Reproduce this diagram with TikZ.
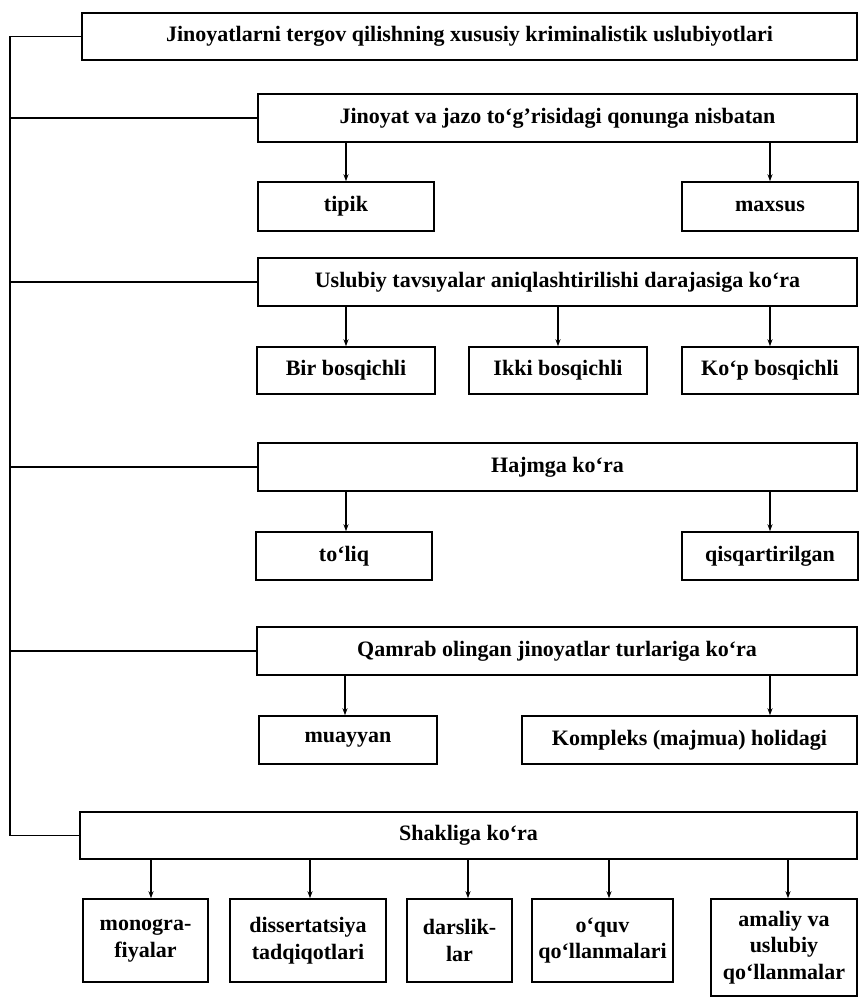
\documentclass[tikz,border=0pt]{standalone}
\usepackage{fontspec}
\setmainfont{Liberation Serif}
\usetikzlibrary{arrows.meta}
\tikzset{
  box/.style={draw, line width=1.5pt, inner sep=0pt, align=center,
    font=\bfseries\fontsize{22}{26.5}\selectfont},
  conn/.style={line width=1.5pt},
  arr/.style={line width=1.3pt, -{Stealth[length=7pt,width=5pt]}},
}
\begin{document}
\begin{tikzpicture}[x=1pt,y=-1pt]
\useasboundingbox (0,0) rectangle (862,999);
% main boxes
\node[box, minimum width=775pt, minimum height=47pt] (b1) at (469.5,36.5) {Jinoyatlarni tergov qilishning xususiy kriminalistik uslubiyotlari};
\node[box, minimum width=599pt, minimum height=48pt] (b2) at (557.5,118) {Jinoyat va jazo to`g'risidagi qonunga nisbatan};
\node[box, minimum width=176pt, minimum height=49pt] (tipik) at (346,206.5) {tipik};
\node[box, minimum width=176pt, minimum height=49pt] (maxsus) at (770,206.5) {maxsus};
\node[box, minimum width=599pt, minimum height=48pt] (b3) at (557.5,282) {Uslubiy tavsıyalar aniqlashtirilishi darajasiga ko`ra};
\node[box, minimum width=178pt, minimum height=47pt] (bir) at (346,370.5) {Bir bosqichli};
\node[box, minimum width=178pt, minimum height=47pt] (ikki) at (558,370.5) {Ikki bosqichli};
\node[box, minimum width=176pt, minimum height=47pt] (kop) at (770,370.5) {Ko`p bosqichli};
\node[box, minimum width=599pt, minimum height=48pt] (b4) at (557.5,467) {Hajmga ko`ra};
\node[box, minimum width=176pt, minimum height=48pt] (toliq) at (344,556) {to`liq};
\node[box, minimum width=176pt, minimum height=48pt] (qisq) at (770,556) {qisqartirilgan};
\node[box, minimum width=600pt, minimum height=48pt] (b5) at (557,651) {Qamrab olingan jinoyatlar turlariga ko`ra};
\node[box, minimum width=178pt, minimum height=48pt] (muay) at (348,740) {muayyan};
\node[box, minimum width=335pt, minimum height=48pt] (komp) at (689.5,740) {Kompleks (majmua) holidagi};
\node[box, minimum width=777pt, minimum height=47pt] (b6) at (468.5,835.5) {Shakliga ko`ra};
\node[box, minimum width=125pt, minimum height=83pt] (mono) at (145.5,940.5) {monogra-\\fiyalar};
\node[box, minimum width=156pt, minimum height=83pt] (diss) at (308,940.5) {dissertatsiya\\tadqiqotlari};
\node[box, minimum width=105pt, minimum height=83pt] (dars) at (459.5,940.5) {darslik-\\lar};
\node[box, minimum width=141pt, minimum height=83pt] (oquv) at (602.5,940.5) {o`quv\\qo`llanmalari};
\node[box, minimum width=146pt, minimum height=97pt] (amal) at (784,947.5) {amaliy va\\uslubiy\\qo`llanmalar};
% left spine
\coordinate (spT) at (10,36.5);
\coordinate (spB) at (10,835.5);
\draw[conn] (b1.west) -- (spT) -- (spB) -- (b6.west);
\draw[conn] (b2.west) -- (b2.west -| spT);
\draw[conn] (b3.west) -- (b3.west -| spT);
\draw[conn] (b4.west) -- (b4.west -| spT);
\draw[conn] (b5.west) -- (b5.west -| spT);
% arrows
\draw[arr] (tipik.north |- b2.south) -- (tipik.north);
\draw[arr] (maxsus.north |- b2.south) -- (maxsus.north);
\draw[arr] (bir.north |- b3.south) -- (bir.north);
\draw[arr] (ikki.north |- b3.south) -- (ikki.north);
\draw[arr] (kop.north |- b3.south) -- (kop.north);
\draw[arr] ([xshift=2pt]toliq.north |- b4.south) -- ([xshift=2pt]toliq.north);
\draw[arr] (qisq.north |- b4.south) -- (qisq.north);
\draw[arr] ([xshift=-3pt]muay.north |- b5.south) -- ([xshift=-3pt]muay.north);
\draw[arr] ([xshift=80.5pt]komp.north |- b5.south) -- ([xshift=80.5pt]komp.north);
\draw[arr] ([xshift=5.5pt]mono.north |- b6.south) -- ([xshift=5.5pt]mono.north);
\draw[arr] ([xshift=2pt]diss.north |- b6.south) -- ([xshift=2pt]diss.north);
\draw[arr] ([xshift=8.5pt]dars.north |- b6.south) -- ([xshift=8.5pt]dars.north);
\draw[arr] ([xshift=6.5pt]oquv.north |- b6.south) -- ([xshift=6.5pt]oquv.north);
\draw[arr] ([xshift=4pt]amal.north |- b6.south) -- ([xshift=4pt]amal.north);
\end{tikzpicture}
\end{document}
